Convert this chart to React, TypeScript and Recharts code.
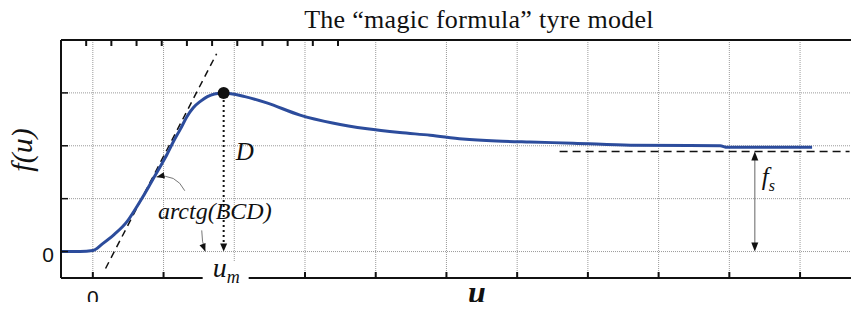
import React from "react";
import {
  LineChart,
  Line,
  XAxis,
  YAxis,
  CartesianGrid,
  ReferenceLine,
  ReferenceDot,
} from "recharts";

// curve f(u)
const uValues = [
  -0.45, -0.18, 0, 0.14, 0.3, 0.48, 0.6, 0.71, 0.83, 0.95, 1.05, 1.14, 1.24, 1.33, 1.42, 1.52,
  1.62, 1.72, 1.85, 2.15, 2.46, 2.93, 3.39, 3.88, 4.34, 4.77, 5.23, 5.71, 6.18, 6.79, 7.6, 8.87,
  8.97, 10.17,
];
const fValues = [
  0, 0, 0.02, 0.15, 0.32, 0.56, 0.8, 1.04, 1.32, 1.6, 1.84, 2.08, 2.32, 2.55, 2.72, 2.84, 2.93,
  2.98, 3.0, 2.93, 2.81, 2.58, 2.43, 2.32, 2.25, 2.2, 2.13, 2.09, 2.07, 2.05, 2.01, 2.0, 1.97,
  1.97,
];

const xTicks = [0, 1, 2, 3, 4, 5, 6, 7, 8, 9, 10, 11];
const yTicks = [0, 1, 2, 3, 4];
const xDomain = [-0.45, 11.3];
const yDomain = [-0.5, 4];

// annotations
const peak = { u: 1.85, f: 3.0 };
const tangentStart = { x: 0.18, y: -0.32 };
const tangentEnd = { x: 1.75, y: 3.74 };
const asymptoteF = 1.89;
const asymptoteRange = [6.6, 10.7];
const fsU = 9.36;
// bottom tick hidden behind the u_m label
const coveredTick = 2;

const data = uValues.map((u, i) => ({ u, f: fValues[i] }));

const SERIF = "'Liberation Serif', 'Times New Roman', serif";
const SANS = "'Liberation Sans', Arial, sans-serif";
const BLUE = "#2c4c9c";

const arrowHead = (tx: number, ty: number, dx: number, dy: number, len = 9, half = 3.5) => {
  const n = Math.hypot(dx, dy) || 1;
  const ux = dx / n;
  const uy = dy / n;
  const bx = tx - ux * len;
  const by = ty - uy * len;
  return `${tx},${ty} ${bx - uy * half},${by + ux * half} ${bx + uy * half},${by - ux * half}`;
};

const BottomTick = (props: any) => {
  const { x, y, payload } = props;
  return (
    <g>
      {payload.value !== coveredTick && (
        <line x1={x} y1={y} x2={x} y2={y - 6} stroke="#111" strokeWidth={2} />
      )}
      {payload.value === 0 && (
        <text x={x} y={y + 27} textAnchor="middle" fontFamily={SANS} fontSize={21} fill="#111">
          0
        </text>
      )}
    </g>
  );
};

const TopTick = (props: any) => {
  const { x, y } = props;
  return <line x1={x} y1={y} x2={x} y2={y + 6} stroke="#111" strokeWidth={2} />;
};

const LeftTick = (props: any) => {
  const { x, y, payload } = props;
  return (
    <g>
      <line x1={x} y1={y} x2={x + 7} y2={y} stroke="#111" strokeWidth={1.5} />
      {payload.value === 0 && (
        <text x={x - 7} y={y + 10} textAnchor="end" fontFamily={SANS} fontSize={21} fill="#111">
          0
        </text>
      )}
    </g>
  );
};

const DottedDrop = (props: any) => {
  const { x1, y1, x2, y2 } = props;
  return (
    <g>
      <line x1={x1} y1={y1 + 7} x2={x2} y2={y2 - 8} stroke="#111" strokeWidth={2} strokeDasharray="2 3" />
      <polygon points={arrowHead(x2, y2, 0, 1, 8, 3.5)} fill="#111" />
    </g>
  );
};

const DoubleArrow = (props: any) => {
  const { x1, y1, x2, y2 } = props;
  return (
    <g>
      <line x1={x1} y1={y1 + 8} x2={x2} y2={y2 - 8} stroke="#888" strokeWidth={1.3} />
      <polygon points={arrowHead(x1, y1, 0, -1, 9, 3.5)} fill="#111" />
      <polygon points={arrowHead(x2, y2, 0, 1, 9, 3.5)} fill="#111" />
    </g>
  );
};

const curvedArrow = (bend: number) => (props: any) => {
  const { x1, y1, x2, y2 } = props;
  const mx = (x1 + x2) / 2;
  const my = (y1 + y2) / 2;
  const dx = x2 - x1;
  const dy = y2 - y1;
  const n = Math.hypot(dx, dy) || 1;
  const cx = mx + (-dy / n) * bend;
  const cy = my + (dx / n) * bend;
  return (
    <g>
      <path d={`M${x1},${y1} Q${cx},${cy} ${x2},${y2}`} fill="none" stroke="#777" strokeWidth={1} />
      <polygon points={arrowHead(x2, y2, x2 - cx, y2 - cy, 8, 3.2)} fill="#111" />
    </g>
  );
};

const textShape =
  (content: React.ReactNode, anchor: "start" | "middle" | "end", size: number) => (props: any) =>
    (
      <text
        x={props.cx}
        y={props.cy}
        textAnchor={anchor}
        fontFamily={SERIF}
        fontStyle="italic"
        fontSize={size}
        fill="#111"
      >
        {content}
      </text>
    );

const UmLabel = (props: any) => {
  const { cx, cy } = props;
  return (
    <g>
      <rect x={cx - 21} y={cy - 16} width={46} height={30} fill="#fff" />
      <text x={cx - 11} y={cy - 1} fontFamily={SERIF} fontStyle="italic" fontSize={28} fill="#111">
        u
        <tspan fontSize={18} dy={6}>
          m
        </tspan>
      </text>
    </g>
  );
};

const App = () => {
  return (
    <div style={{ margin: -8, width: 859, height: 310, overflow: "hidden", position: "relative", background: "#fff" }}>
      <LineChart width={900} height={310} data={data} margin={{ top: 39, right: 8, bottom: 31, left: 60 }}>
        <CartesianGrid stroke="#9a9a9a" strokeDasharray="1 1" />
        <XAxis
          dataKey="u"
          type="number"
          domain={xDomain}
          ticks={xTicks}
          allowDataOverflow
          height={1}
          tickSize={0}
          tickMargin={0}
          tickLine={false}
          axisLine={{ stroke: "#111", strokeWidth: 2 }}
          tick={<BottomTick />}
        />
        <XAxis
          xAxisId="top"
          orientation="top"
          type="number"
          domain={xDomain}
          ticks={xTicks}
          allowDataOverflow
          height={1}
          tickSize={0}
          tickMargin={0}
          tickLine={false}
          axisLine={{ stroke: "#111", strokeWidth: 2 }}
          tick={<TopTick />}
        />
        <YAxis
          type="number"
          domain={yDomain}
          ticks={yTicks}
          allowDataOverflow
          width={1}
          tickSize={0}
          tickMargin={0}
          tickLine={false}
          axisLine={{ stroke: "#111", strokeWidth: 2 }}
          tick={<LeftTick />}
        />
        <ReferenceLine
          segment={[tangentStart, tangentEnd]}
          stroke="#111"
          strokeWidth={1.5}
          strokeDasharray="7 5"
          ifOverflow="visible"
        />
        <ReferenceLine
          segment={[
            { x: asymptoteRange[0], y: asymptoteF },
            { x: asymptoteRange[1], y: asymptoteF },
          ]}
          stroke="#111"
          strokeWidth={1.5}
          strokeDasharray="8 5"
          ifOverflow="visible"
        />
        <Line
          type="monotone"
          dataKey="f"
          stroke={BLUE}
          strokeWidth={3}
          dot={false}
          activeDot={false}
          isAnimationActive={false}
        />
        <ReferenceLine
          segment={[
            { x: peak.u, y: peak.f },
            { x: peak.u, y: 0 },
          ]}
          shape={DottedDrop}
          ifOverflow="visible"
        />
        <ReferenceLine
          segment={[
            { x: fsU, y: asymptoteF },
            { x: fsU, y: 0 },
          ]}
          shape={DoubleArrow}
          ifOverflow="visible"
        />
        <ReferenceLine
          segment={[
            { x: 1.3, y: 1.15 },
            { x: 0.9, y: 1.41 },
          ]}
          shape={curvedArrow(12)}
          ifOverflow="visible"
        />
        <ReferenceLine
          segment={[
            { x: 1.54, y: 0.4 },
            { x: 1.59, y: 0 },
          ]}
          shape={curvedArrow(2)}
          ifOverflow="visible"
        />
        <ReferenceDot x={peak.u} y={peak.f} r={6} fill="#111" stroke="none" ifOverflow="visible" />
        <ReferenceDot x={2.15} y={1.73} shape={textShape("D", "middle", 25)} ifOverflow="visible" />
        <ReferenceDot x={0.92} y={0.62} shape={textShape("arctg(BCD)", "start", 24)} ifOverflow="visible" />
        <ReferenceDot
          x={9.46}
          y={1.26}
          shape={textShape(
            <>
              f
              <tspan fontSize={16} dy={6}>
                s
              </tspan>
            </>,
            "start",
            25
          )}
          ifOverflow="visible"
        />
        <ReferenceDot x={peak.u} y={-0.5} shape={UmLabel} ifOverflow="visible" />
      </LineChart>
      <svg
        width={859}
        height={310}
        style={{ position: "absolute", left: 0, top: 0, pointerEvents: "none" }}
      >
        <text
          x={479}
          y={28}
          textAnchor="middle"
          fontFamily={SERIF}
          fontSize={26}
          letterSpacing={0.3}
          fill="#111"
        >
          The “magic formula” tyre model
        </text>
        <text
          transform="translate(32,150) rotate(-90)"
          textAnchor="middle"
          fontFamily={SERIF}
          fontStyle="italic"
          fontSize={30}
          fill="#111"
        >
          f(u)
        </text>
        <text
          x={477}
          y={303}
          textAnchor="middle"
          fontFamily={SERIF}
          fontStyle="italic"
          fontWeight="bold"
          fontSize={32}
          fill="#111"
        >
          u
        </text>
      </svg>
    </div>
  );
};

export default App;
